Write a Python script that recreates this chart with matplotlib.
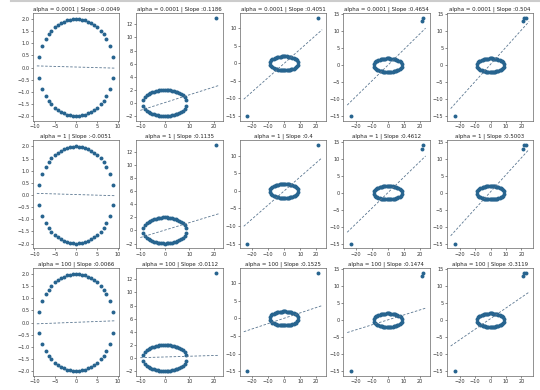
import numpy as np
import matplotlib
matplotlib.use("Agg")
import matplotlib.pyplot as plt
from matplotlib.lines import Line2D

# ellipse points (upper and lower halves)
ell_x = [-8.8, -8.1, -7.3, -6.6, -5.9, -5.1, -4.4, -3.7, -2.9, -2.2, -1.5, -0.7, 0.0,
         0.7, 1.5, 2.2, 2.9, 3.7, 4.4, 5.1, 5.9, 6.6, 7.3, 8.1, 8.8]
ell_y_top = [0.42, 0.87, 1.17, 1.36, 1.51, 1.65, 1.74, 1.82, 1.89, 1.94, 1.97, 1.99, 2.0,
             1.99, 1.97, 1.94, 1.89, 1.82, 1.74, 1.65, 1.51, 1.36, 1.17, 0.87, 0.42]
ell_y_bot = [-0.42, -0.87, -1.17, -1.36, -1.51, -1.65, -1.74, -1.82, -1.89, -1.94, -1.97, -1.99, -2.0,
             -1.99, -1.97, -1.94, -1.89, -1.82, -1.74, -1.65, -1.51, -1.36, -1.17, -0.87, -0.42]

# outliers added in each column
out_x = [[], [21], [21, -23], [21, 22, -23], [21, 22, 23, -23]]
out_y = [[], [13], [13, -15], [13, 14, -15], [13, 14, 14, -15]]

alphas = ["0.0001", "1", "100"]
slopes = [[-0.0049, 0.1186, 0.4051, 0.4654, 0.504],
          [-0.0051, 0.1135, 0.4, 0.4612, 0.5003],
          [0.0066, 0.0112, 0.1525, 0.1474, 0.3119]]
slope_txt = [["-0.0049", "0.1186", "0.4051", "0.4654", "0.504"],
             ["-0.0051", "0.1135", "0.4", "0.4612", "0.5003"],
             ["0.0066", "0.0112", "0.1525", "0.1474", "0.3119"]]
intercepts = [[0.02, 0.05, 0.0, 0.0, 0.3],
              [0.02, 0.05, 0.0, 0.0, 0.3],
              [0.01, 0.15, 0.05, 0.1, 0.5]]
# x range of the fitted line per column
line_lo = [-9.4, -10.0, -25.2, -25.3, -26.0]
line_hi = [9.4, 22.0, 23.7, 23.5, 25.0]

pt_color = "#27648f"
line_color = "#5a7690"

fig, axes = plt.subplots(3, 5, figsize=(5.4, 3.9), dpi=100)
fig.subplots_adjust(left=0.061, right=0.987, top=0.967, bottom=0.036,
                    wspace=0.20, hspace=0.18)

for r in range(3):
    for c in range(5):
        ax = axes[r, c]
        xs = ell_x + ell_x + out_x[c]
        ys = ell_y_top + ell_y_bot + out_y[c]
        ax.scatter(xs, ys, s=8, color=pt_color, linewidths=0)
        lx = np.array([line_lo[c], line_hi[c]])
        ax.plot(lx, slopes[r][c] * lx + intercepts[r][c], "--",
                color=line_color, lw=0.6, dashes=(3, 2))
        ax.set_title("alpha = %s | Slope :%s" % (alphas[r], slope_txt[r][c]),
                     fontsize=3.9, pad=2, color="#222222")
        ax.tick_params(labelsize=3.6, length=1.5, width=0.4, pad=1,
                       colors="#333333")
        for s in ax.spines.values():
            s.set_linewidth(0.5)
            s.set_color("#666666")
        if c == 0:
            ax.set_xticks([-10, -5, 0, 5, 10])
            ax.set_yticks([-2.0, -1.5, -1.0, -0.5, 0.0, 0.5, 1.0, 1.5, 2.0])
            ax.set_ylim(-2.2, 2.25)
        elif c == 1:
            ax.set_xticks([-10, 0, 10, 20])
            ax.set_yticks([-2, 0, 2, 4, 6, 8, 10, 12])
        elif c == 2:
            ax.set_xticks([-20, -10, 0, 10, 20])
            ax.set_yticks([-15, -10, -5, 0, 5, 10])
        else:
            ax.set_xticks([-20, -10, 0, 10, 20])
            ax.set_yticks([-15, -10, -5, 0, 5, 10, 15])

fig.add_artist(Line2D([0.02, 1.0], [0.997, 0.997], color="#cccccc", lw=1.5,
                      transform=fig.transFigure))

fig.savefig("out.png", dpi=100)
